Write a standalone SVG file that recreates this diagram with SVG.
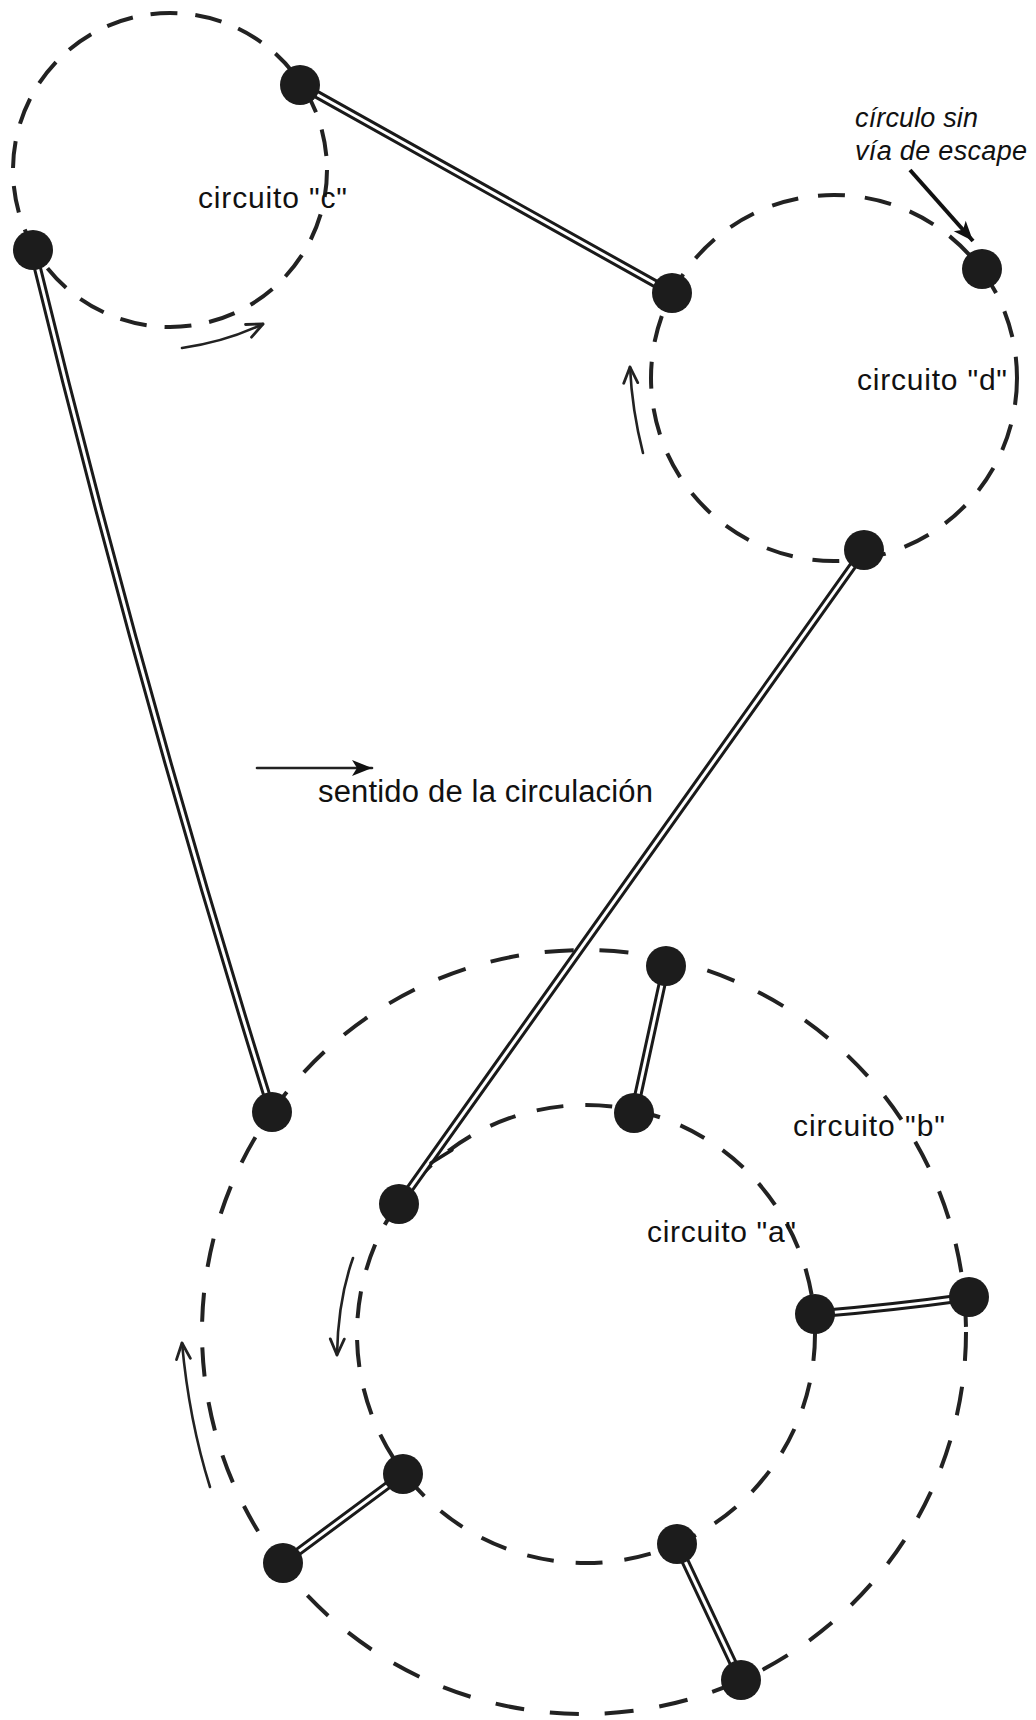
<svg xmlns="http://www.w3.org/2000/svg" width="1036" height="1720" viewBox="0 0 1036 1720">
<defs>
<style>
.bg{fill:#ffffff}
.circ{fill:none;stroke:#222;stroke-width:4}
.dc{stroke-dasharray:27 18}
.dd{stroke-dasharray:27 20}
.da{stroke-dasharray:27 22}
.db{stroke-dasharray:29 26}
.wireo{fill:none;stroke:#1a1a1a;stroke-width:9;stroke-linecap:round}
.wirei{fill:none;stroke:#ffffff;stroke-width:3;stroke-linecap:butt}
.node{fill:#1c1c1c}
.flow{fill:none;stroke:#222;stroke-width:2.6;stroke-linecap:round}
.lbl{font-family:"Liberation Sans",Arial,sans-serif;font-size:30px;fill:#111}
.big{font-size:31px}
.ital{font-family:"Liberation Sans",Arial,sans-serif;font-size:27px;font-style:italic;fill:#111}
</style>
<marker id="open" markerUnits="userSpaceOnUse" markerWidth="22" markerHeight="18" refX="18" refY="9" orient="auto" viewBox="0 0 22 18">
<path d="M2,2 L18,9 L2,16" fill="none" stroke="#222" stroke-width="2.8" stroke-linecap="round" stroke-linejoin="round"/>
</marker>
<marker id="solid" markerUnits="userSpaceOnUse" markerWidth="26" markerHeight="20" refX="22" refY="10" orient="auto" viewBox="0 0 26 20">
<path d="M2,2 L22,10 L2,18 L7,10 Z" fill="#111"/>
</marker>
</defs>
<rect class="bg" x="0" y="0" width="1036" height="1720"/>

<g id="circuits">
<circle id="circuit-c" class="circ dc" cx="170" cy="170" r="157"/>
<circle id="circuit-d" class="circ dd" cx="834" cy="378" r="183"/>
<circle id="circuit-b" class="circ db" cx="584" cy="1332" r="382"/>
<circle id="circuit-a" class="circ da" cx="586" cy="1334" r="229"/>
</g>

<g id="connectors">
<g id="c1-d1"><path class="wireo" d="M300,85 L672,293"/><path class="wirei" d="M300,85 L672,293"/></g>
<g id="c2-b1"><path class="wireo" d="M33,250 Q140,690 272,1112"/><path class="wirei" d="M33,250 Q140,690 272,1112"/></g>
<g id="d3-a1"><path class="wireo" d="M864,550 L399,1204"/><path class="wirei" d="M864,550 L399,1204"/>
<path d="M431,1163 L452,1150" fill="none" stroke="#1a1a1a" stroke-width="3.5" stroke-linecap="round"/></g>
<g id="b2-a2"><path class="wireo" d="M666,966 L634,1113"/><path class="wirei" d="M666,966 L634,1113"/></g>
<g id="a3-b3"><path class="wireo" d="M815,1314 Q890,1308 969,1297"/><path class="wirei" d="M815,1314 Q890,1308 969,1297"/></g>
<g id="a4-b4"><path class="wireo" d="M403,1474 L283,1563"/><path class="wirei" d="M403,1474 L283,1563"/></g>
<g id="a5-b5"><path class="wireo" d="M677,1544 L741,1680"/><path class="wirei" d="M677,1544 L741,1680"/></g>
</g>

<g id="flow-arrows">
<path class="flow" d="M182,348 Q225,342 263,324" marker-end="url(#open)"/>
<path class="flow" d="M643,453 Q632,410 630,367" marker-end="url(#open)"/>
<path class="flow" d="M210,1487 Q189,1420 182,1343" marker-end="url(#open)"/>
<path class="flow" d="M353,1258 Q338,1300 337,1355" marker-end="url(#open)"/>
<path class="flow" d="M257,768 L372,768" stroke-width="3" marker-end="url(#solid)"/>
<path d="M910,170 L973,241" fill="none" stroke="#111" stroke-width="4" marker-end="url(#solid)"/>
</g>

<g id="node-c1"><circle class="node" cx="300" cy="85" r="20"/></g>
<g id="node-c2"><circle class="node" cx="33" cy="250" r="20"/></g>
<g id="node-d1"><circle class="node" cx="672" cy="293" r="20"/></g>
<g id="node-d2"><circle class="node" cx="982" cy="269" r="20"/></g>
<g id="node-d3"><circle class="node" cx="864" cy="550" r="20"/></g>
<g id="node-b1"><circle class="node" cx="272" cy="1112" r="20"/></g>
<g id="node-b2"><circle class="node" cx="666" cy="966" r="20"/></g>
<g id="node-b3"><circle class="node" cx="969" cy="1297" r="20"/></g>
<g id="node-b4"><circle class="node" cx="283" cy="1563" r="20"/></g>
<g id="node-b5"><circle class="node" cx="741" cy="1680" r="20"/></g>
<g id="node-a1"><circle class="node" cx="399" cy="1204" r="20"/></g>
<g id="node-a2"><circle class="node" cx="634" cy="1113" r="20"/></g>
<g id="node-a3"><circle class="node" cx="815" cy="1314" r="20"/></g>
<g id="node-a4"><circle class="node" cx="403" cy="1474" r="20"/></g>
<g id="node-a5"><circle class="node" cx="677" cy="1544" r="20"/></g>

<g id="labels">
<text class="lbl" x="198" y="208" textLength="149" lengthAdjust="spacing">circuito "c"</text>
<text class="lbl" x="857" y="390" textLength="150" lengthAdjust="spacing">circuito "d"</text>
<text class="lbl" x="793" y="1136" textLength="152" lengthAdjust="spacing">circuito "b"</text>
<text class="lbl" x="647" y="1242" textLength="149" lengthAdjust="spacing">circuito "a"</text>
<text class="lbl big" x="318" y="802" textLength="335" lengthAdjust="spacing">sentido de la circulación</text>
<text class="ital" x="855" y="127" textLength="123" lengthAdjust="spacing">círculo sin</text>
<text class="ital" x="855" y="160" textLength="172" lengthAdjust="spacing">vía de escape</text>
</g>
</svg>
